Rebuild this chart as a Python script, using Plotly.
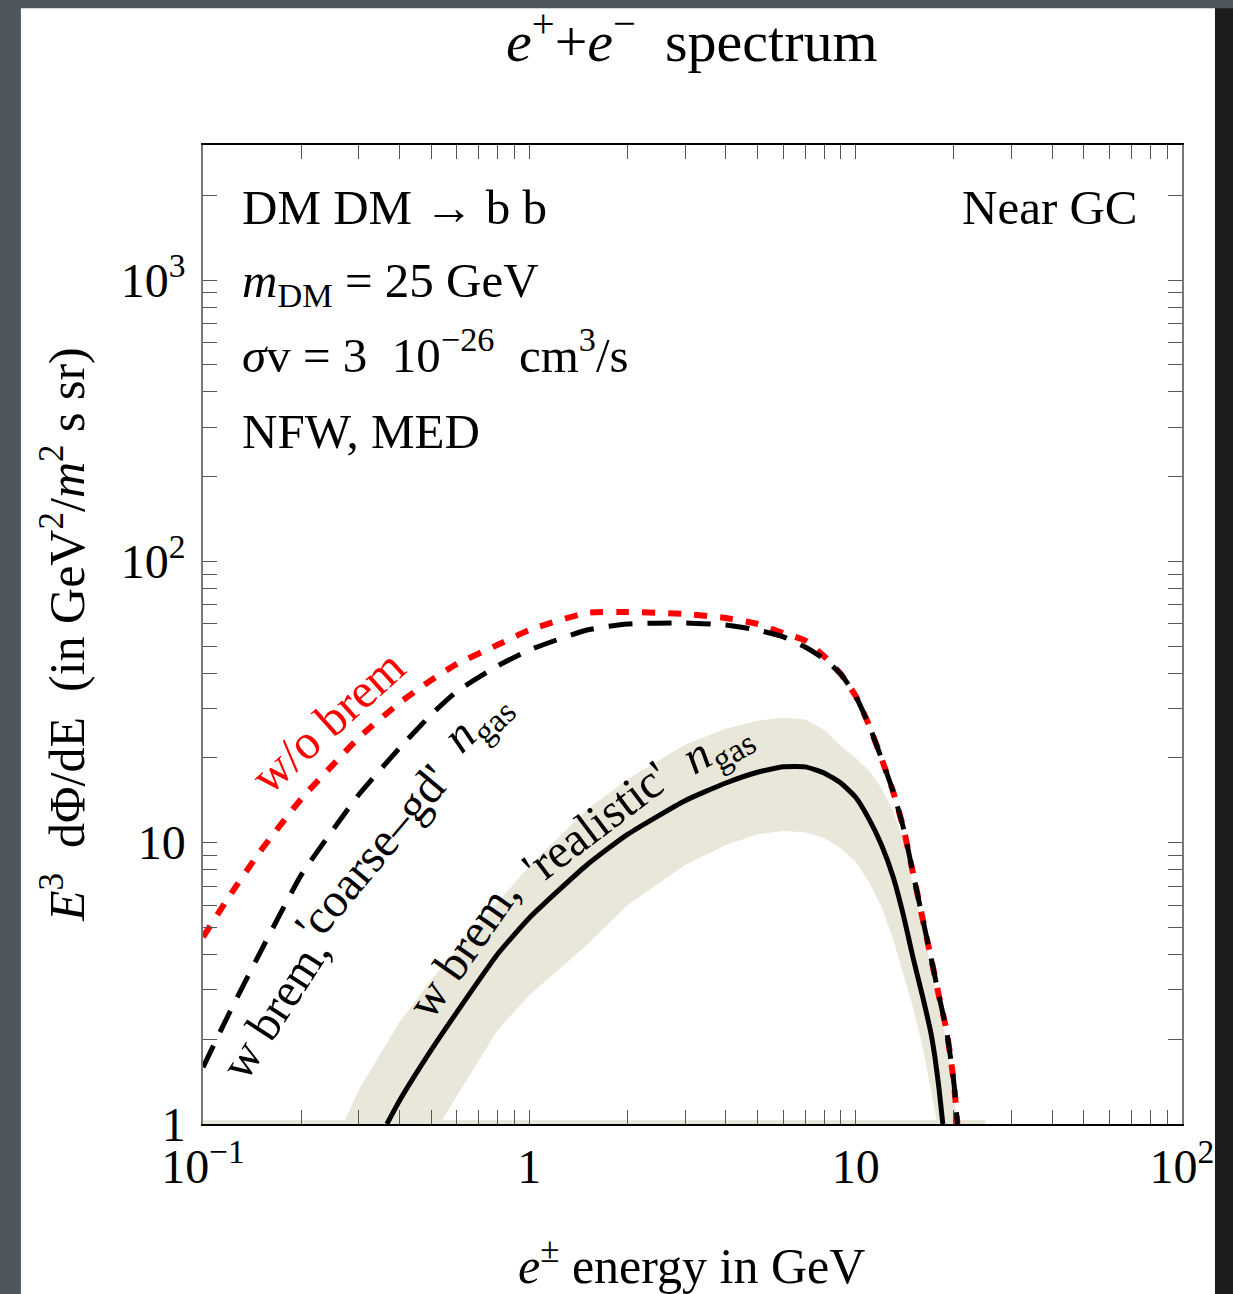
import plotly.graph_objects as go

# ---------------- data ----------------
E_grid = [0.1, 0.12, 0.15, 0.2, 0.25, 0.3, 0.4, 0.5, 0.6, 0.8, 1, 1.5, 2, 3, 4, 5,
          6, 7, 8, 9, 10, 11, 12, 13, 14, 15, 16, 17, 18, 19, 20, 20.5]
no_brem = [4.62, 6.41, 9.34, 14.3, 18.9, 23.6, 31.4, 37.8, 43.2, 50.5, 57.0, 65.6,
           66.1, 65.0, 62.9, 59.9, 55.6, 52.3, 46.0, 39.8, 33.2, 26.1, 19.9, 15.3,
           11.3, 7.77, 5.44, 3.92, 2.85, 2.14, 1.40, 1.0]
coarse_gd = [1.59, 2.46, 4.09, 7.68, 11.1, 14.8, 21.7, 28.5, 34.5, 42.5, 48.4, 57.0,
             59.9, 60.4, 59.4, 57.0, 53.9, 49.6, 45.0, 39.8, 33.2, 26.1, 19.9, 15.3,
             11.3, 7.77, 5.44, 3.92, 2.85, 2.14, 1.40, 1.0]

E_real = [0.366, 0.4, 0.5, 0.6, 0.8, 1, 1.5, 2, 3, 4, 5, 6, 7, 8, 9, 10, 11, 12,
          13, 14, 15, 16, 17, 17.5, 18, 18.5]
realistic = [1.0, 1.21, 1.83, 2.50, 4.02, 5.40, 8.33, 10.7, 14.1, 16.3, 17.8, 18.6,
             18.6, 17.7, 16.3, 14.5, 12.1, 9.81, 7.61, 5.53, 3.89, 2.87, 2.11, 1.72,
             1.34, 1.0]

E_band_hi = [0.269, 0.3, 0.4, 0.5, 0.6, 0.8, 1, 1.5, 2, 3, 4, 5, 6, 7, 8, 9, 10,
             11, 12, 13, 14, 15, 16, 17, 18, 19, 20, 20.5]
band_hi = [1.0, 1.32, 2.30, 3.25, 4.16, 6.15, 8.27, 13.1, 16.8, 22.3, 25.4, 27.1,
           27.8, 27.4, 25.2, 22.0, 20.0, 18.0, 15.6, 13.0, 10.2, 7.2, 5.05, 3.65,
           2.65, 1.95, 1.28, 1.0]
E_band_lo = [0.532, 0.6, 0.8, 1, 1.5, 2, 3, 4, 5, 6, 7, 8, 9, 10, 11, 12, 13, 14,
             15, 16, 17, 17.8]
band_lo = [1.0, 1.26, 2.16, 2.87, 4.33, 6.0, 8.33, 9.81, 10.7, 11.0, 10.9, 10.4,
           9.58, 8.54, 7.25, 5.91, 4.58, 3.39, 2.58, 1.91, 1.32, 1.0]
E_band_edge = [0.1, 25]
band_edge = [1.0, 1.0]

x_tickvals = [0.1, 1, 10, 100]
x_ticktext = ["10<sup>\u22121</sup>", "1", "10", "10<sup>2</sup>"]
y_tickvals = [1, 10, 100, 1000]
y_ticktext = ["1", "10", "10<sup>2</sup>", "10<sup>3</sup>"]
x_minor = [m * d for d in (0.1, 1, 10) for m in range(2, 10)]
y_minor = [m * d for d in (1, 10, 100, 1000) for m in range(2, 10) if m * d < 3000]

# ---------------- style ----------------
FONT = "Liberation Serif, Times New Roman, serif"
BAND = "#e9e6da"
NB = "\u00a0"

fig = go.Figure()

fig.add_trace(go.Scatter(
    x=E_band_hi + E_band_lo[::-1], y=band_hi + band_lo[::-1],
    fill="toself", fillcolor=BAND, line=dict(width=0), mode="lines",
    hoverinfo="skip", showlegend=False))
fig.add_trace(go.Scatter(x=E_band_edge, y=band_edge, mode="lines",
                         line=dict(color=BAND, width=8), showlegend=False))
fig.add_trace(go.Scatter(x=E_real, y=realistic, mode="lines",
                         line=dict(color="black", width=5, shape="spline", smoothing=0.5),
                         showlegend=False))
fig.add_trace(go.Scatter(x=E_grid, y=no_brem, mode="lines",
                         line=dict(color="#ff0000", width=6, dash="13px,13px",
                                   shape="spline", smoothing=0.5),
                         showlegend=False))
fig.add_trace(go.Scatter(x=E_grid, y=coarse_gd, mode="lines",
                         line=dict(color="black", width=5, dash="24px,15px",
                                   shape="spline", smoothing=0.5),
                         showlegend=False))

axis_common = dict(
    type="log", ticks="inside", ticklen=14, tickwidth=1, tickcolor="#555",
    showline=True, mirror="ticks", showgrid=False, zeroline=False,
    tickfont=dict(family=FONT, size=48, color="black"),
)

fig.update_xaxes(range=[-1, 2], tickvals=x_tickvals, ticktext=x_ticktext,
                 linecolor="black", linewidth=1.5,
                 minor=dict(tickvals=x_minor, ticks="inside", ticklen=14,
                            tickwidth=1, tickcolor="#555", showgrid=False),
                 **axis_common)
fig.update_yaxes(range=[0, 3.48], tickvals=y_tickvals, ticktext=y_ticktext,
                 linecolor="#777", linewidth=1.5, ticklabelstandoff=6,
                 minor=dict(tickvals=y_minor, ticks="inside", ticklen=14,
                            tickwidth=1, tickcolor="#555", showgrid=False),
                 **axis_common)

def ann(text, x, y, size=48, color="black", xanchor="center", yanchor="middle", angle=0):
    return dict(text=text, x=x, y=y, xref="paper", yref="paper", showarrow=False,
                xanchor=xanchor, yanchor=yanchor, textangle=angle,
                font=dict(family=FONT, size=size, color=color))

def px(xp, yp):
    # convert a pixel position in the figure into paper coordinates
    return (xp - 203) / 979.0, (1124 - yp) / 979.0

def ann_px(text, xp, yp, **kw):
    x, y = px(xp, yp)
    return ann(text, x, y, **kw)

annotations = [
    ann_px("<i>e</i><sup>+</sup>+<i>e</i><sup>\u2212</sup>" + NB + NB + "spectrum",
           692, 38, size=58),
    ann_px("<i>e</i><sup>\u00b1</sup> energy in GeV", 691, 1262, size=50),
    ann_px("<i>E</i><sup>3</sup>" + NB + NB + "d\u03a6/dE" + NB + NB +
           "(in GeV<sup>2</sup>/<i>m</i><sup>2</sup> s sr)", 63, 635, size=50, angle=-90),
    ann_px("DM DM \u2192 b b", 240, 207, xanchor="left", size=49),
    ann_px("<i>m</i><sub>DM</sub> = 25 GeV", 240, 283, xanchor="left", size=49),
    ann_px("<i>\u03c3</i>v = 3" + NB + NB + "10<sup>\u221226</sup>" + NB + NB +
           "cm<sup>3</sup>/s", 240, 351, xanchor="left", size=49),
    ann_px("NFW, MED", 240, 432, xanchor="left", size=49),
    ann_px("Near GC", 1140, 207, xanchor="right", size=49),
    ann_px("w/o brem", 328, 722, color="#ff0000", angle=-42, size=49),
    # 'coarse-gd' label, split in pieces to follow the curved baseline
    ann_px("w brem,", 274, 1008, angle=-57, size=48),
    ann_px("'coarse\u2013gd'", 372, 852, angle=-50, size=48),
    ann_px("<i>n</i><sub>gas</sub>", 477, 722, angle=-44, size=48),
    # 'realistic' label, split in pieces
    ann_px("w brem,", 462, 948, angle=-55, size=48),
    ann_px("'realistic'", 595, 822, angle=-37, size=48),
    ann_px("<i>n</i><sub>gas</sub>", 717, 747, angle=-30, size=48),
]

shapes = [
    dict(type="rect", xref="paper", yref="paper", x0=-0.186, x1=1.0337,
         y0=-0.25, y1=1.1397, fillcolor="white", line=dict(width=0), layer="below"),
    dict(type="rect", xref="paper", yref="paper", x0=1.0337, x1=1.06,
         y0=-0.25, y1=1.1397, fillcolor="#1c1c1c", line=dict(width=0), layer="below"),
]

fig.update_layout(
    width=1233, height=1294, autosize=False,
    margin=dict(l=203, r=51, t=145, b=170),
    paper_bgcolor="#4e575b", plot_bgcolor="white",
    annotations=annotations, shapes=shapes, showlegend=False,
    font=dict(family=FONT, color="black"),
)

fig.write_html("out.html")
